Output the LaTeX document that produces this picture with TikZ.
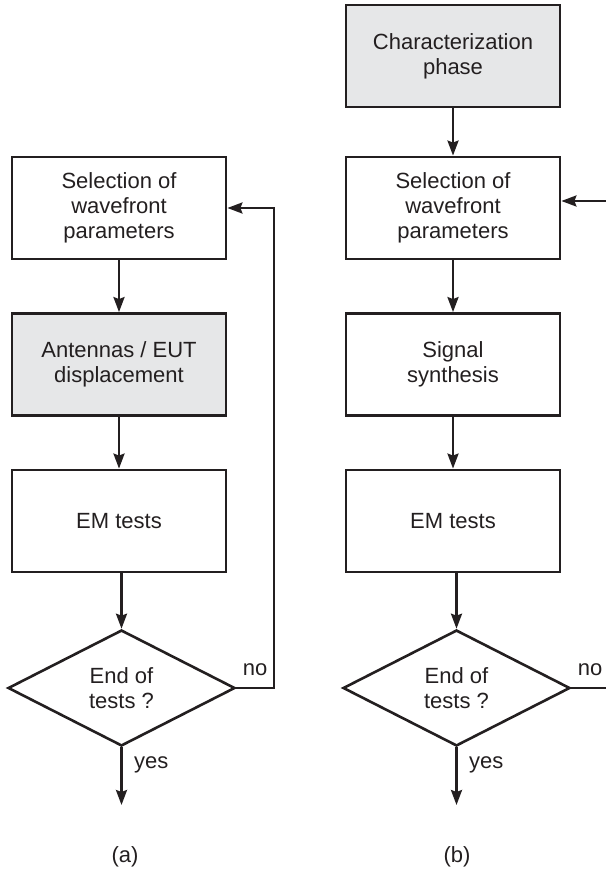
\documentclass[tikz,border=0pt]{standalone}
\usepackage{fontspec}
\setmainfont{Liberation Sans}
\usetikzlibrary{shapes.geometric,arrows.meta}
\definecolor{ink}{HTML}{231F20}
\definecolor{shade}{HTML}{E6E7E8}
\begin{document}
\begin{tikzpicture}[x=1pt,y=-1pt,
  box/.style={draw=ink,line width=2.8pt,minimum width=214pt,minimum height=102pt,inner sep=0pt,align=center,text=ink,font=\fontsize{22}{25}\selectfont},
  graybox/.style={box,fill=shade},
  decision/.style={diamond,draw=ink,line width=2.6pt,aspect=1.96,minimum width=227pt,minimum height=116pt,inner sep=0pt,align=center,text=ink,font=\fontsize{22}{25}\selectfont},
  lbl/.style={text=ink,font=\fontsize{22}{25}\selectfont,inner sep=0pt},
  flow/.style={draw=ink,line width=2.5pt,-{Stealth[length=15pt,width=11pt,inset=2pt]}},
  plain/.style={draw=ink,line width=2.5pt}]
\useasboundingbox (0,0) rectangle (605,874);
% (a)
\node[box] (selA) at (119,208) {Selection of\\wavefront\\parameters};
\node[graybox] (antA) at (119,364.5) {Antennas / EUT\\displacement};
\node[box] (emA) at (119,521) {EM tests};
\node[decision] (dA) at (121.5,688) {End of\\tests ?};
\coordinate (endA) at (121.5,805);
\coordinate (loopA) at (274,688);
\node[lbl,anchor=west] (yesA) at (134,765) {yes};
\node[lbl] (noA) at (255,670) {no};
\node[lbl] (capA) at (125,857) {(a)};
\draw[flow] (selA) -- (antA);
\draw[flow] (antA) -- (emA);
\draw[flow] (emA.south -| dA.north) -- (dA.north);
\draw[flow] (dA.south) -- (endA);
\draw[flow] (dA.east) -- (loopA) |- (selA.east);
% (b)
\node[graybox] (chB) at (453,56) {Characterization\\phase};
\node[box] (selB) at (453,208) {Selection of\\wavefront\\parameters};
\node[box] (sigB) at (453,364.5) {Signal\\synthesis};
\node[box] (emB) at (453,521) {EM tests};
\node[decision] (dB) at (456.5,688) {End of\\tests ?};
\coordinate (endB) at (456.5,805);
\coordinate (outB) at (607,688);
\coordinate (inB) at (607,201);
\node[lbl,anchor=west] (yesB) at (469,765) {yes};
\node[lbl] (noB) at (590,670) {no};
\node[lbl] (capB) at (457,857) {(b)};
\draw[flow] (chB) -- (selB);
\draw[flow] (selB) -- (sigB);
\draw[flow] (sigB) -- (emB);
\draw[flow] (emB.south -| dB.north) -- (dB.north);
\draw[flow] (dB.south) -- (endB);
\draw[plain] (dB.east) -- (outB);
\draw[flow] (inB) -- (inB -| selB.east);
\end{tikzpicture}
\end{document}
